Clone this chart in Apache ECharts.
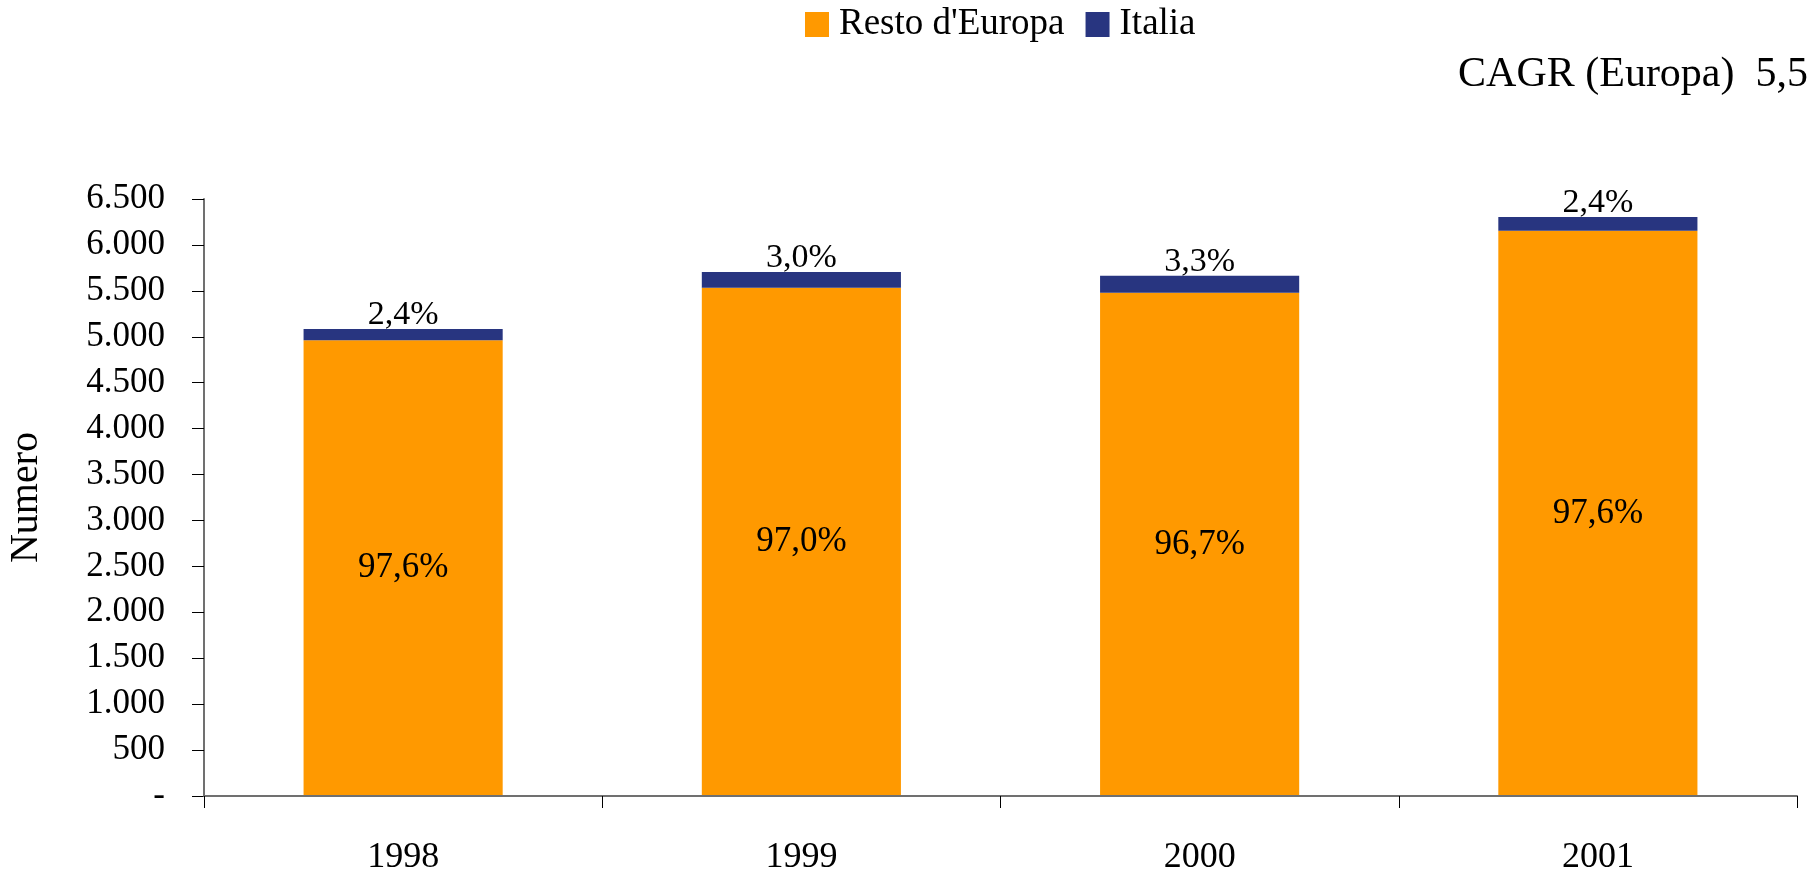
<!DOCTYPE html>
<html>
<head>
<meta charset="utf-8">
<title>Numero – Resto d'Europa e Italia</title>
<script src="https://cdn.jsdelivr.net/npm/echarts@6/dist/echarts.min.js"></script>
<style>
  html, body { margin: 0; padding: 0; background: #ffffff; }
  #chart { width: 1816px; height: 873px; }
</style>
</head>
<body>
<div id="chart"></div>
<script>
// Anni e valori (numero) per area
const years = ['1998', '1999', '2000', '2001'];
const restoEuropa = [4963, 5534, 5478, 6153];
const italia = [122, 171, 187, 151];
const yTicks = { min: 0, max: 6500, step: 500 };
const cagrText = 'CAGR (Europa)  5,5';

const FONT = '"Liberation Serif", "Times New Roman", serif';

// quota percentuale di ciascuna area sul totale dell'anno
function share(arr, i) {
  const tot = restoEuropa[i] + italia[i];
  return (arr[i] / tot * 100).toFixed(1).replace('.', ',') + '%';
}

function fmtThousands(v) {
  if (v === 0) return '-';
  return String(v).replace(/\B(?=(\d{3})+(?!\d))/g, '.');
}

const chart = echarts.init(document.getElementById('chart'), null, { renderer: 'canvas' });

chart.setOption({
  backgroundColor: '#ffffff',
  animation: false,
  title: {
    text: cagrText,
    right: 8,
    top: 54,
    padding: 0,
    textStyle: { fontFamily: FONT, fontSize: 42, fontWeight: 'normal', color: '#000000' }
  },
  legend: {
    left: 805,
    top: 6,
    padding: 0,
    itemWidth: 24,
    itemHeight: 25,
    itemGap: 21,
    icon: 'rect',
    data: ['Resto d\'Europa', 'Italia'],
    textStyle: { fontFamily: FONT, fontSize: 37, color: '#000000', padding: [0, 0, 0, 5] }
  },
  grid: { left: 204, right: 19, top: 199, bottom: 77, outerBoundsMode: 'none', containLabel: false },
  xAxis: {
    type: 'category',
    data: years,
    z: 3,
    axisLine: { lineStyle: { color: '#707070', width: 2 } },
    axisTick: { show: true, length: 12, lineStyle: { color: '#000000', width: 1 } },
    axisLabel: { fontFamily: FONT, fontSize: 36, color: '#000000', margin: 44 },
    splitLine: { show: false }
  },
  yAxis: {
    type: 'value',
    min: yTicks.min,
    max: yTicks.max,
    interval: yTicks.step,
    name: 'Numero',
    nameLocation: 'middle',
    nameRotate: 90,
    nameGap: 158,
    nameTextStyle: { fontFamily: FONT, fontSize: 40, color: '#000000' },
    axisLine: { show: true, lineStyle: { color: '#707070', width: 2 } },
    axisTick: { show: true, length: 12, lineStyle: { color: '#000000', width: 1 } },
    axisLabel: {
      fontFamily: FONT, fontSize: 35, color: '#000000', margin: 39,
      formatter: fmtThousands
    },
    splitLine: { show: false }
  },
  series: [
    {
      name: 'Resto d\'Europa',
      type: 'bar',
      stack: 'totale',
      barWidth: '50%',
      data: restoEuropa,
      itemStyle: { color: '#FF9900' },
      label: {
        show: true,
        position: 'inside',
        fontFamily: FONT, fontSize: 35, color: '#000000',
        formatter: p => share(restoEuropa, p.dataIndex)
      }
    },
    {
      name: 'Italia',
      type: 'bar',
      stack: 'totale',
      barWidth: '50%',
      data: italia,
      itemStyle: { color: '#283580' },
      label: {
        show: true,
        position: 'top',
        distance: -3,
        fontFamily: FONT, fontSize: 34, color: '#000000',
        formatter: p => share(italia, p.dataIndex)
      }
    }
  ]
});
</script>
</body>
</html>
